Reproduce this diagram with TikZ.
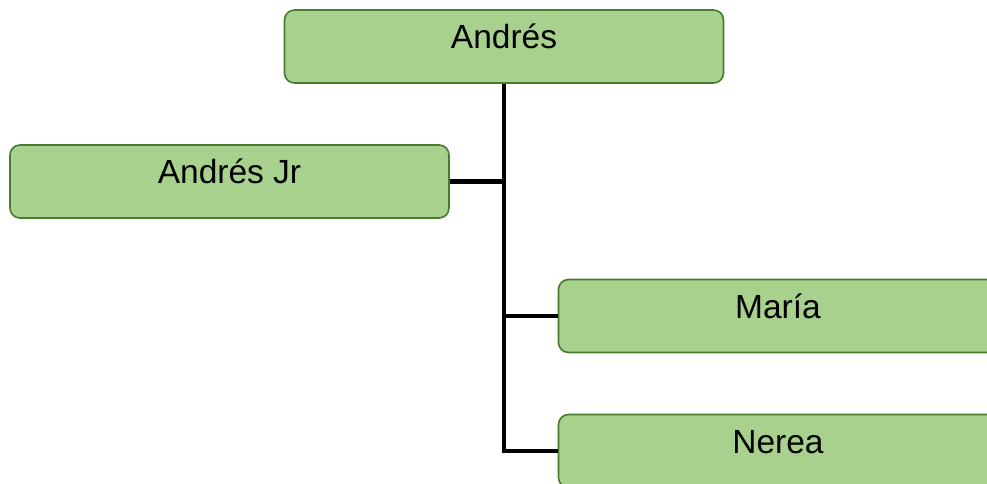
\documentclass[tikz,border=0pt]{standalone}
\usepackage{fontspec}
\setmainfont{Liberation Sans}
\usetikzlibrary{positioning}
\definecolor{boxfill}{HTML}{A9D18E}
\definecolor{boxline}{HTML}{4A7A2E}
\definecolor{ink}{HTML}{000000}
\newcommand{\namefont}{\fontsize{33.5}{40}\selectfont}
\tikzset{
  person/.style={draw=boxline,fill=boxfill,line width=1.6pt,rounded corners=10pt,
    minimum width=439pt,minimum height=73pt,inner sep=0,
    text height=16pt,text depth=12pt,font=\namefont,text=ink},
  tie/.style={ink,line width=4.5pt}
}
\begin{document}
\begin{tikzpicture}[x=1pt,y=-1pt]
\useasboundingbox (0,0) rectangle (987,484);
\node[person] (andres) at (504,46.5) {Andrés};
\node[person] (andresjr) at (229.5,181.5) {Andrés Jr};
\node[person] (maria) at (778,316) {María};
\node[person] (nerea) at (778,451) {Nerea};
\draw[tie] (andres.south) -- (andres.south |- nerea.west) -- (nerea.west);
\draw[tie] (andresjr.east) -- (andresjr.east -| andres.south);
\draw[tie] (maria.west) -- (maria.west -| andres.south);
\end{tikzpicture}
\end{document}
